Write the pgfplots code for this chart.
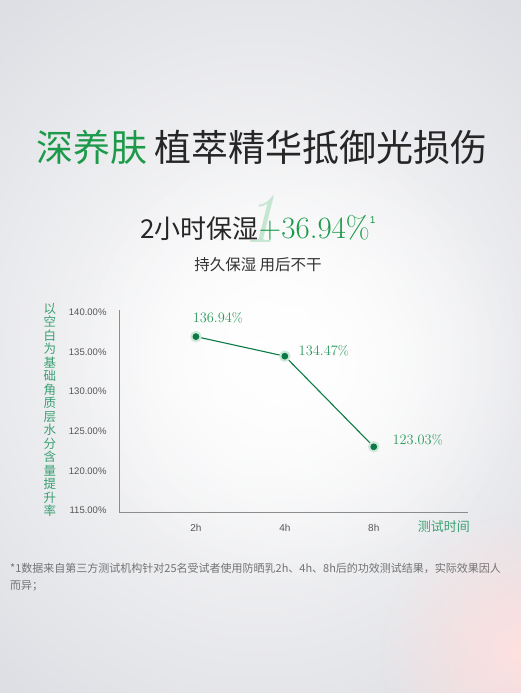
\documentclass[border=0pt]{standalone}
\usepackage{fontspec}
\usepackage{pgfplots}
\pgfplotsset{compat=1.18}
\usetikzlibrary{fadings}
\newfontfamily\cjk{Noto Sans CJK SC}
\newfontfamily\sans{Liberation Sans}
\definecolor{titlegreen}{HTML}{1C9A4A}
\definecolor{linegreen}{HTML}{0B7A46}
\definecolor{labelgreen}{HTML}{2B9A5C}
\definecolor{ylabgreen}{HTML}{3AA072}
\definecolor{halo}{HTML}{CFE8D8}
\definecolor{ticktext}{HTML}{555555}
\definecolor{bggray}{HTML}{DDDEE3}
\tikzfading[name=softedge, inner color=transparent!0, outer color=transparent!100]

\pgfplotstableread{
x y dx dy
0 136.94 -7 19
1 134.47 10 5
2 123.03 15 7
}\moisture

\begin{document}
\begin{tikzpicture}[x=1pt,y=1pt]
\useasboundingbox (0,0) rectangle (520,693);
% background
\shade[inner color=white, outer color=bggray] (-150,-100) rectangle (670,793);
\fill[white, path fading=softedge] (300,330) circle (230);
\fill[red!12, path fading=softedge] (520,40) circle (140);

% headings
\node[font={\cjk\fontsize{37}{42}\selectfont}, anchor=center] at (262,546)
  {\textcolor{titlegreen}{深养肤}\hspace{0.2em}\textcolor{black!85}{植萃精华抵御光损伤}};
\node[font={\itshape\fontsize{70}{70}\selectfont}, text=titlegreen!25] at (260,474) {1};
\node[anchor=base] at (258,454)
  {{\cjk\fontsize{26}{28}\selectfont\textcolor{black!85}{2小时保湿}}{\fontsize{31}{32}\selectfont\textcolor{titlegreen}{+36.94\%}}\raisebox{15pt}{\sans\fontsize{10}{10}\selectfont\textcolor{titlegreen}{1}}};
\node[font={\cjk\fontsize{15.5}{18}\selectfont}, text=black!80] at (258,428) {持久保湿 用后不干};

% chart
\begin{axis}[
    at={(119pt,181pt)}, anchor=south west,
    scale only axis,
    width=349pt, height=202pt,
    xmin=-0.865, xmax=3.06,
    ymin=114.8, ymax=140.3,
    axis x line*=bottom, axis y line*=left,
    axis line style={draw=black!45, line width=0.8pt, -},
    xtick={0,1,2},
    xticklabels={2h,4h,8h},
    ytick={115,120,125,130,135,140},
    yticklabels={115.00\%,120.00\%,125.00\%,130.00\%,135.00\%,140.00\%},
    tick style={draw=none},
    xticklabel style={font={\sans\fontsize{10}{10}\selectfont}, text=ticktext, yshift=-9pt},
    yticklabel style={font={\sans\fontsize{9.5}{10}\selectfont}, text=ticktext, xshift=-9pt},
    xlabel={测试时间},
    xlabel style={font={\cjk\fontsize{13}{14}\selectfont}, text=ylabgreen,
      at={(rel axis cs:0.931,0)}, anchor=center, yshift=-15pt},
    ylabel={以\\空\\白\\为\\基\\础\\角\\质\\层\\水\\分\\含\\量\\提\\升\\率},
    ylabel style={font={\cjk\fontsize{12.5}{13.5}\selectfont}, text=ylabgreen,
      rotate=-90, align=center, at={(rel axis cs:-0.198,0.505)}, anchor=center},
    clip=false,
]
\addplot[only marks, mark=*, mark size=5.5pt, color=halo, mark options={fill=halo, draw=none}]
  table[x=x, y=y] {\moisture};
\addplot[color=linegreen, line width=1.1pt, mark=*, mark size=2.8pt,
    mark options={fill=linegreen, draw=none},
    point meta=y,
    visualization depends on={\thisrow{dx}\as\dx},
    visualization depends on={\thisrow{dy}\as\dy},
    nodes near coords={\pgfmathprintnumber[fixed,fixed zerofill,precision=2]{\pgfplotspointmeta}\%},
    nodes near coords style={anchor=west, xshift=\dx pt, yshift=\dy pt,
      font=\fontsize{13.5}{14}\selectfont, text=labelgreen},
  ] table[x=x, y=y] {\moisture};
\end{axis}

% footnote
\node[anchor=north west, align=left, font={\cjk\fontsize{11}{17}\selectfont}, text=black!55, inner sep=0pt] at (10,130)
  {*1数据来自第三方测试机构针对25名受试者使用防晒乳2h、4h、8h后的功效测试结果，实际效果因人\\而异；};
\end{tikzpicture}
\end{document}
